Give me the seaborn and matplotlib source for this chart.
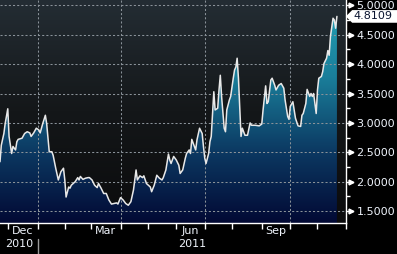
import numpy as np
import pandas as pd
import matplotlib
matplotlib.use("Agg")
import matplotlib.pyplot as plt
import seaborn as sns
from matplotlib.colors import LinearSegmentedColormap
from matplotlib.path import Path
from matplotlib.ticker import MultipleLocator, FixedLocator
import matplotlib.transforms as mtransforms

# ---------------- data ----------------
start_date = "2010-11-23"          # first trading day shown
# trading-day index (business days since start_date)
trading_day = [0, 1, 3, 4, 6, 7, 9, 10, 12, 13, 14, 17, 19, 21, 23, 24, 26, 28, 30, 31,
               33, 35, 36, 38, 40, 41, 43, 45, 47, 49, 50, 51, 53, 54, 55, 58, 60, 61, 62, 64,
               66, 68, 69, 71, 73, 75, 76, 78, 80, 82, 84, 86, 88, 90, 91, 93, 95, 97, 99, 101,
               103, 105, 106, 108, 110, 111, 113, 116, 117, 119, 121, 123, 125, 126, 128, 130, 131, 132, 134, 136,
               138, 139, 141, 143, 144, 146, 147, 148, 150, 151, 152, 154, 156, 157, 158, 159, 161, 162, 163, 164,
               165, 166, 168, 169, 170, 171, 173, 174, 175, 177, 178, 180, 181, 182, 183, 184, 185, 186, 187, 189,
               191, 193, 194, 196, 197, 200, 202, 203, 205, 206, 207, 209, 210, 212, 213, 215, 217, 219, 220, 222,
               223, 224, 226, 227, 228, 230, 232, 233, 234, 236, 237, 239, 240, 241, 242, 244, 245, 246, 248, 249,
               250, 252, 253, 254, 255, 257, 258, 259, 260]
yield_pct = [2.34, 2.62, 2.82, 2.99, 3.24, 2.77, 2.48, 2.60, 2.54, 2.68, 2.72, 2.74, 2.82, 2.85, 2.83, 2.77, 2.83, 2.91, 2.88, 2.83,
             2.99, 3.13, 2.99, 2.51, 2.51, 2.45, 2.23, 2.03, 2.17, 2.23, 2.03, 1.74, 1.91, 1.89, 1.94, 2.00, 2.07, 2.03, 2.09, 2.04,
             2.06, 2.07, 2.07, 2.03, 1.94, 1.90, 1.97, 1.89, 1.80, 1.80, 1.69, 1.62, 1.63, 1.64, 1.62, 1.73, 1.69, 1.63, 1.60, 1.66,
             1.86, 2.20, 2.03, 2.10, 2.07, 2.10, 1.97, 1.91, 1.83, 1.94, 2.11, 2.06, 2.03, 2.07, 2.20, 2.47, 2.37, 2.31, 2.43, 2.37,
             2.28, 2.14, 2.20, 2.40, 2.48, 2.54, 2.48, 2.72, 2.60, 2.54, 2.71, 2.91, 2.82, 2.60, 2.40, 2.31, 2.48, 2.68, 2.77, 3.16,
             3.53, 3.22, 3.25, 3.56, 3.81, 3.45, 2.91, 2.85, 3.22, 3.39, 3.45, 3.76, 3.90, 3.95, 4.10, 3.76, 3.25, 2.77, 2.91, 2.79,
             2.79, 3.00, 2.96, 2.96, 2.96, 2.95, 2.98, 3.22, 3.63, 3.33, 3.36, 3.73, 3.76, 3.64, 3.56, 3.64, 3.67, 3.59, 3.39, 3.11,
             3.06, 3.28, 3.36, 3.22, 3.08, 2.95, 2.94, 3.13, 3.16, 3.33, 3.57, 3.45, 3.50, 3.45, 3.50, 3.16, 3.56, 3.76, 3.79, 3.87,
             4.01, 4.10, 4.23, 4.15, 4.47, 4.78, 4.75, 4.61, 4.8109]
last_value_label = "4.8109"
month_labels = ["Dec", "Mar", "Jun", "Sep"]
year_labels = ["2010", "2011"]
y_ticks = [1.5, 2.0, 2.5, 3.0, 3.5, 4.0, 4.5, 5.0]
axis_end_date = "2011-12-01"

# ---------------- style ----------------
sns.set_theme(style="dark")
plt.rcParams['font.family'] = ['DejaVu Sans']
TXT = '#eef3fb'

fig = plt.figure(figsize=(3.97, 2.54), dpi=100, facecolor='black')
ax = fig.add_axes([0, 30.7 / 254, 346 / 397, 223.3 / 254])

ymin, ymax = 1.293, 5.09
x_end = int(np.busday_count(start_date, axis_end_date))
xmin, xmax = 0, x_end

# background gradient
grad = np.linspace(0, 1, 256).reshape(-1, 1)
bg_cmap = LinearSegmentedColormap.from_list('bg', ['#0b0b0c', '#141719', '#242d34'])
ax.imshow(grad, extent=[0, 1, 0, 1], transform=ax.transAxes, origin='lower',
          aspect='auto', cmap=bg_cmap, zorder=0)

df = pd.DataFrame({'day': trading_day, 'value': yield_pct})

# gradient-filled area under the line
poly = ax.fill_between(df['day'], df['value'], ymin, facecolor='none', edgecolor='none')
fill_cmap = LinearSegmentedColormap.from_list('fill', ['#020934', '#0c3a63', '#1a7e9a', '#22a0b4'])
img = ax.imshow(grad, extent=[xmin, xmax, ymin, 5.0], origin='lower', aspect='auto',
                cmap=fill_cmap, zorder=1)
img.set_clip_path(poly.get_paths()[0], transform=ax.transData)

sns.lineplot(data=df, x='day', y='value', ax=ax, color='#e8e8e8', linewidth=1.1, zorder=4)

ax.set_xlim(xmin, xmax)
ax.set_ylim(ymin, ymax)
ax.set_xlabel('')
ax.set_ylabel('')

# ---- y axis on the right ----
ax.yaxis.tick_right()
ax.set_yticks(y_ticks)
ax.set_yticklabels([f"{t:.4f}" for t in y_ticks])
ax.yaxis.set_minor_locator(MultipleLocator(0.25))
ax.tick_params(axis='y', which='major', length=5, width=1, color='white',
               labelcolor=TXT, labelsize=8, pad=2.5, right=True, left=False)
ax.tick_params(axis='y', which='minor', length=3, width=1, color='white', right=True, left=False)
ax.yaxis.grid(True, which='major', color='#8a9299', linestyle=(0, (2, 2)), linewidth=0.75)
ax.set_axisbelow(False)

# small pointer markers on major y ticks
ptr = ax.get_yaxis_transform() + mtransforms.ScaledTranslation(4.5 / 100, 0, fig.dpi_scale_trans)
for t in y_ticks:
    ax.plot([1], [t], marker='>', markersize=3.5, color='white', transform=ptr, clip_on=False, zorder=6)

# ---- x axis (business-day scale) ----
month_starts = pd.date_range("2010-12-01", axis_end_date, freq='MS')
ms_pos = np.array([np.busday_count(start_date, d.strftime('%Y-%m-%d')) for d in month_starts])
ax.set_xticks(ms_pos)
ax.set_xticklabels([''] * len(ms_pos))
ax.tick_params(axis='x', which='major', length=4, width=1, color='white', bottom=True)
label_months = [12, 3, 6, 9]
mids = [(ms_pos[i] + ms_pos[i + 1]) / 2 for i, d in enumerate(month_starts[:-1]) if d.month in label_months]
ax.xaxis.set_minor_locator(FixedLocator(mids))
ax.set_xticks(mids, labels=month_labels, minor=True)
ax.tick_params(axis='x', which='minor', length=0, labelcolor=TXT, labelsize=8, pad=2)
ax.xaxis.grid(False)

# quarter grid lines
for d, p in zip(month_starts, ms_pos):
    if d.month in (1, 4, 7, 10):
        ax.axvline(p, color='#8a9299', linestyle=(0, (2, 2)), linewidth=0.75, zorder=2.5)

# year row
jan1 = np.busday_count(start_date, "2011-01-01")
xt = ax.get_xaxis_transform()
ax.text((xmin + jan1) / 2, -0.108, year_labels[0], transform=xt, ha='center', va='baseline',
        color=TXT, fontsize=8)
ax.text((jan1 + xmax) / 2, -0.108, year_labels[1], transform=xt, ha='center', va='baseline',
        color=TXT, fontsize=8)
ax.plot([jan1, jan1], [-0.07, -0.14], transform=xt, color='#9a9a9a', linewidth=1, clip_on=False)

# spines
for s in ['top', 'left']:
    ax.spines[s].set_visible(False)
for s in ['right', 'bottom']:
    ax.spines[s].set_visible(True)
    ax.spines[s].set_color('white')
    ax.spines[s].set_linewidth(1)


# last value flag
def flag_box(x0, y0, width, height, mutation_size):
    pad = 0.12 * mutation_size
    x0 -= pad
    y0 -= pad
    width += 2 * pad
    height += 2 * pad
    tip = height * 0.5
    verts = [(x0 - tip, y0 + height / 2), (x0, y0), (x0 + width + 10, y0),
             (x0 + width + 10, y0 + height), (x0, y0 + height), (x0 - tip, y0 + height / 2)]
    codes = [Path.MOVETO] + [Path.LINETO] * 4 + [Path.CLOSEPOLY]
    return Path(verts, codes)


lab = ax.get_yaxis_transform() + mtransforms.ScaledTranslation(7.5 / 100, 0, fig.dpi_scale_trans)
ax.text(1, yield_pct[-1], last_value_label, transform=lab, ha='left', va='center',
        color='#0a1430', fontsize=8, zorder=7, clip_on=False,
        bbox=dict(boxstyle=flag_box, facecolor='white', edgecolor='none'))

fig.savefig('out.png', dpi=100, facecolor='black')
